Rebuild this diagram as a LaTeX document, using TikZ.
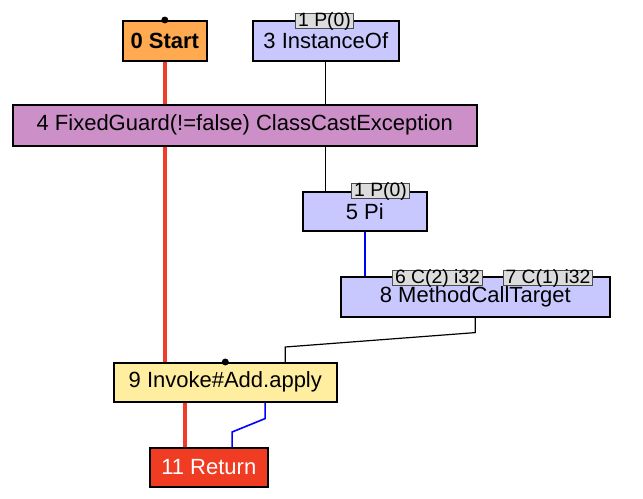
\documentclass[tikz,border=0pt]{standalone}
\usepackage{fontspec}
\setmainfont{Liberation Sans}
\usetikzlibrary{positioning,calc}

\definecolor{startorange}{RGB}{255,170,80}
\definecolor{fixedpink}{RGB}{204,143,200}
\definecolor{floatblue}{RGB}{200,200,255}
\definecolor{invokeyellow}{RGB}{255,238,160}
\definecolor{returnred}{RGB}{240,60,35}
\definecolor{ctrlred}{RGB}{240,60,40}
\definecolor{lblgray}{RGB}{220,220,220}

\begin{document}
\begin{tikzpicture}[x=0.75pt, y=-0.75pt,
    op/.style={draw, line width=1.2pt, rectangle, anchor=north west, inner sep=0pt,
        font=\fontsize{16.5}{18}\selectfont},
    lbl/.style={draw=black!70, line width=0.8pt, rectangle, anchor=north west, inner sep=0pt,
        fill=lblgray, text height=10pt, text depth=1.5pt, font=\fontsize{14.5}{15}\selectfont},
    ctrl/.style={draw=ctrlred, line width=2.6pt},
    dat/.style={draw=blue, line width=1.2pt},
    use/.style={draw=black, line width=0.9pt}]
    \useasboundingbox (0,0) rectangle (643,499);

    % nodes
    \node[op, fill=startorange, minimum width=63pt, minimum height=30pt, font=\fontsize{16.5}{18}\selectfont\bfseries] (start) at (122,20) {0 Start};
    \node[op, fill=floatblue, minimum width=109.5pt, minimum height=30pt] (inst) at (252,20) {3 InstanceOf};
    \node[op, fill=fixedpink, minimum width=348pt, minimum height=30.75pt] (guard) at (12,104) {4 FixedGuard(!=false) ClassCastException};
    \node[op, fill=floatblue, minimum width=93pt, minimum height=29.25pt] (pi) at (302,191) {5 Pi};
    \node[op, fill=floatblue, minimum width=201.75pt, minimum height=30pt] (mct) at (340,276) {8 MethodCallTarget};
    \node[op, fill=invokeyellow, minimum width=167.25pt, minimum height=29.25pt] (invoke) at (113,362) {9 Invoke\#Add.apply};
    \node[op, fill=returnred, text=white, minimum width=88.5pt, minimum height=29.25pt] (ret) at (149,447) {11 Return};

    % input labels
    \node[lbl, minimum width=43.5pt] (p0a) at (295,13) {1 P(0)};
    \node[lbl, minimum width=43.5pt] (p0b) at (351,183) {1 P(0)};
    \node[lbl, minimum width=67.5pt] (c2) at (392,270) {6 C(2) i32};
    \node[lbl, minimum width=66.75pt] (c1) at (503,270) {7 C(1) i32};

    % ports
    \coordinate (retctrl) at ($(ret.north west)!0.3!(ret.north east)$);
    \coordinate (retval) at ($(ret.north west)!0.695!(ret.north east)$);
    \coordinate (invout) at ($(invoke.south west)!0.677!(invoke.south east)$);
    \coordinate (invtarget) at ($(invoke.north west)!0.767!(invoke.north east)$);

    % control flow
    \draw[ctrl] (start.south) -- (start.south |- guard.north);
    \draw[ctrl] (start.south |- guard.south) -- (start.south |- invoke.north);
    \draw[ctrl] (retctrl |- invoke.south) -- (retctrl);

    % data flow
    \draw[use] (inst.south) -- (inst.south |- guard.north);
    \draw[use] (inst.south |- guard.south) -- (inst.south |- pi.north);
    \draw[dat] (pi.south) -- (pi.south |- mct.north);
    \draw[use] (mct.south) -- ++(0,15) -- ($(invtarget)+(0,-15)$) -- (invtarget);
    \draw[dat] (invout) -- ++(0,16) -- ($(retval)+(0,-15)$) -- (retval);

    \fill (start.north) circle (2.6pt);
    \fill (invoke.north) circle (2.6pt);
\end{tikzpicture}
\end{document}
